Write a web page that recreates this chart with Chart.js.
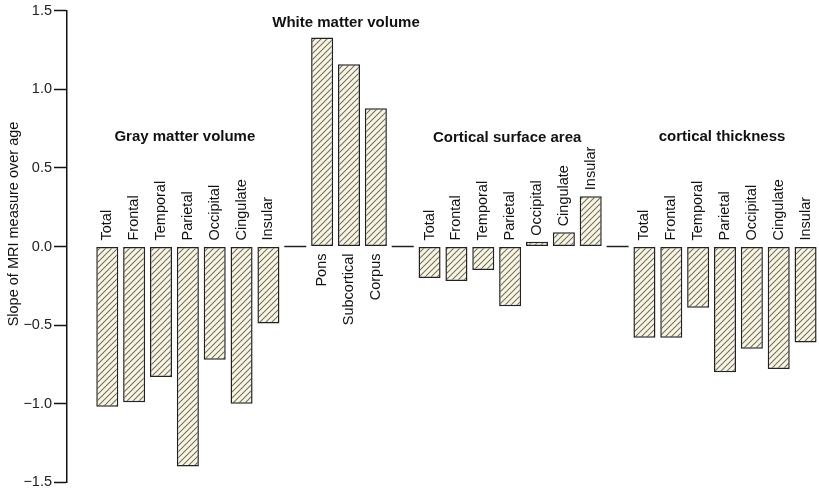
<!DOCTYPE html>
<html>
<head>
<meta charset="utf-8">
<script src="https://cdn.jsdelivr.net/npm/chart.js@4/dist/chart.umd.min.js"></script>
<style>
  html, body { margin: 0; padding: 0; background: #fff; }
  #wrap { width: 819px; height: 493px; position: relative; }
</style>
</head>
<body>
<div id="wrap"><canvas id="chart"></canvas></div>
<script>
// valores
const groupTitles = ['Gray matter volume', 'White matter volume', 'Cortical surface area', 'cortical thickness'];

const grayLabels = ['Total', 'Frontal', 'Temporal', 'Parietal', 'Occipital', 'Cingulate', 'Insular'];
const grayValues = [-1.02, -0.99, -0.83, -1.40, -0.72, -1.00, -0.49];

const whiteLabels = ['Pons', 'Subcortical', 'Corpus'];
const whiteValues = [1.33, 1.16, 0.88];

const surfaceLabels = ['Total', 'Frontal', 'Temporal', 'Parietal', 'Occipital', 'Cingulate', 'Insular'];
const surfaceValues = [-0.20, -0.22, -0.15, -0.38, 0.03, 0.09, 0.32];

const thicknessLabels = ['Total', 'Frontal', 'Temporal', 'Parietal', 'Occipital', 'Cingulate', 'Insular'];
const thicknessValues = [-0.58, -0.58, -0.39, -0.80, -0.65, -0.78, -0.61];

const yTicks = [-1.5, -1.0, -0.5, 0.0, 0.5, 1.0, 1.5];
const yTitle = 'Slope of MRI measure over age';

// armar las posiciones con un hueco entre grupos
const groups = [
  { title: groupTitles[0], labels: grayLabels, values: grayValues, below: false },
  { title: groupTitles[1], labels: whiteLabels, values: whiteValues, below: true },
  { title: groupTitles[2], labels: surfaceLabels, values: surfaceValues, below: false },
  { title: groupTitles[3], labels: thicknessLabels, values: thicknessValues, below: false }
];
const points = [];
const gaps = [];
let pos = 0;
groups.forEach((g, gi) => {
  g.start = pos;
  g.values.forEach((v, i) => {
    points.push({ x: pos, y: v, label: g.labels[i], below: g.below });
    pos++;
  });
  g.end = pos - 1;
  if (gi < groups.length - 1) { gaps.push(pos); pos++; }
});

// relleno rayado
function makeHatch() {
  const c = document.createElement('canvas');
  c.width = 6; c.height = 6;
  const x = c.getContext('2d');
  x.fillStyle = '#f9f6e6';
  x.fillRect(0, 0, 6, 6);
  x.strokeStyle = '#74705c';
  x.lineWidth = 1.1;
  x.beginPath();
  x.moveTo(0, 6); x.lineTo(6, 0);
  x.moveTo(-1, 1); x.lineTo(1, -1);
  x.moveTo(5, 7); x.lineTo(7, 5);
  x.stroke();
  return x.createPattern(c, 'repeat');
}

const FONT = '"Liberation Sans", Arial, sans-serif';

const annotations = {
  id: 'annotations',
  afterDatasetsDraw(chart) {
    const ctx = chart.ctx;
    const xs = chart.scales.x, ys = chart.scales.y;
    const meta = chart.getDatasetMeta(0);
    const barW = meta.data.length ? meta.data[0].width : 20;
    const y0 = ys.getPixelForValue(0);
    ctx.save();

    // líneas en cero entre grupos
    ctx.strokeStyle = '#222';
    ctx.lineWidth = 1.5;
    gaps.forEach(g => {
      const cx = xs.getPixelForValue(g);
      ctx.beginPath();
      ctx.moveTo(cx - barW / 2, y0);
      ctx.lineTo(cx + barW / 2, y0);
      ctx.stroke();
    });

    // etiquetas de cada barra
    ctx.fillStyle = '#111';
    ctx.font = '14.5px ' + FONT;
    ctx.textBaseline = 'middle';
    points.forEach(p => {
      const cx = xs.getPixelForValue(p.x);
      let ay;
      ctx.save();
      if (p.below) {
        ay = y0 + 7;
        ctx.translate(cx, ay);
        ctx.rotate(-Math.PI / 2);
        ctx.textAlign = 'right';
      } else {
        ay = ys.getPixelForValue(Math.max(0, p.y)) - 6;
        ctx.translate(cx, ay);
        ctx.rotate(-Math.PI / 2);
        ctx.textAlign = 'left';
      }
      ctx.fillText(p.label, 0, 0);
      ctx.restore();
    });

    // títulos de grupo
    const titleLevels = [0.70, 1.42, 0.69, 0.70];
    ctx.font = 'bold 15px ' + FONT;
    ctx.textAlign = 'center';
    groups.forEach((g, gi) => {
      const cx = (xs.getPixelForValue(g.start) + xs.getPixelForValue(g.end)) / 2 - 3;
      ctx.fillText(g.title, cx, ys.getPixelForValue(titleLevels[gi]));
    });

    // título del eje y
    ctx.font = '14.5px ' + FONT;
    ctx.translate(14, 224);
    ctx.rotate(-Math.PI / 2);
    ctx.textAlign = 'center';
    ctx.fillText(yTitle, 0, 0);
    ctx.restore();
  }
};

const chart = new Chart(document.getElementById('chart').getContext('2d'), {
  type: 'bar',
  data: {
    datasets: [{
      data: points.map(p => ({ x: p.x, y: p.y })),
      backgroundColor: makeHatch(),
      borderColor: '#222',
      borderWidth: 1.5,
      borderSkipped: false,
      barPercentage: 0.82,
      categoryPercentage: 1
    }]
  },
  options: {
    responsive: true,
    maintainAspectRatio: false,
    animation: false,
    layout: { padding: { top: 8, bottom: 6, right: 0, left: 0 } },
    plugins: { legend: { display: false }, tooltip: { enabled: false } },
    scales: {
      x: {
        type: 'linear',
        min: -1.5,
        max: pos - 0.5,
        offset: false,
        display: false
      },
      y: {
        min: yTicks[0],
        max: yTicks[yTicks.length - 1],
        afterBuildTicks: s => { s.ticks = yTicks.map(v => ({ value: v })); },
        afterFit: s => { s.width = 67; },
        border: { display: true, color: '#111', width: 1.5 },
        grid: { drawOnChartArea: false, drawTicks: true, tickLength: 13, tickColor: '#111', tickWidth: 1.5 },
        ticks: {
          padding: 2,
          color: '#222',
          font: { family: FONT, size: 14.5 },
          callback: v => v.toFixed(1).replace('-', '\u2212')
        }
      }
    }
  },
  plugins: [annotations]
});
</script>
</body>
</html>
